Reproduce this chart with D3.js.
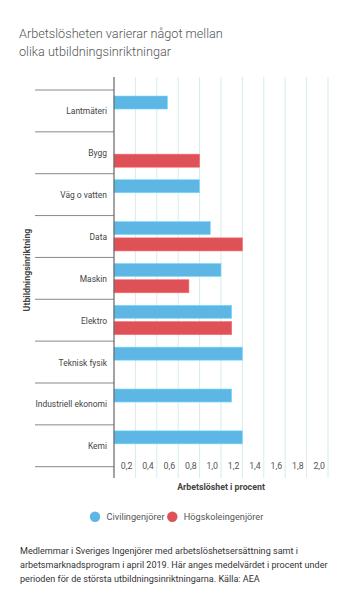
<!DOCTYPE html>
<html><head><meta charset="utf-8">
<script src="https://cdn.jsdelivr.net/npm/d3@7"></script>
<style>
body{margin:0;background:#fff;font-family:Roboto,"Noto Sans",sans-serif;}
</style></head>
<body>
<svg id="c" width="354" height="600"></svg>
<script>
const categories = ["Lantmäteri","Bygg","Väg o vatten","Data","Maskin","Elektro","Teknisk fysik","Industriell ekonomi","Kemi"];
const seriesNames = ["Civilingenjörer","Högskoleingenjörer"];
const civil = [0.5, null, 0.8, 0.9, 1.0, 1.1, 1.2, 1.1, 1.2];
const hogskola = [null, 0.8, null, 1.2, 0.7, 1.1, null, null, null];
const tickValues = [0.2,0.4,0.6,0.8,1.0,1.2,1.4,1.6,1.8,2.0];
const colors = ["#5db6e4","#de5257"];
const titleLines = ["Arbetslösheten varierar något mellan","olika utbildningsinriktningar"];
const noteLines = ["Medlemmar i Sveriges Ingenjörer med arbetslöshetsersättning samt i",
 "arbetsmarknadsprogram i april 2019. Här anges medelvärdet i procent under",
 "perioden för de största utbildningsinriktningarna. Källa: AEA"];

const svg = d3.select("#c");
// fit a text selection's font size so that a reference line hits a target width
function fitSize(sel, refNode, target){
  const w = refNode.getComputedTextLength();
  const fs = parseFloat(sel.attr("font-size"));
  sel.attr("font-size", fs*target/w);
}

const x = d3.scaleLinear().domain([0,2.0]).range([114,328]);
const y = d3.scaleBand().domain(categories).range([90,466.7]);
const sub = d3.scaleBand().domain(seriesNames).range([6, y.bandwidth()-6.5]).paddingInner(0.2);

// title
const tg = svg.append("g").attr("font-size",14).attr("fill","#555").attr("font-weight",300);
const tt = tg.selectAll("text").data(titleLines).join("text")
  .attr("x",19).attr("y",(d,i)=>38+i*17.5).text(d=>d);
fitSize(tg, tt.nodes()[0], 204);

// gridlines
svg.append("g").selectAll("line").data(tickValues).join("line")
  .attr("x1",d=>x(d)).attr("x2",d=>x(d)).attr("y1",77).attr("y2",478)
  .attr("stroke","#d9ebea").attr("stroke-width",1);

// separators
svg.append("g").selectAll("line").data(d3.range(categories.length+1)).join("line")
  .attr("x1",35).attr("x2",114)
  .attr("y1",i=> i<categories.length ? y(categories[i]) : y.range()[1])
  .attr("y2",i=> i<categories.length ? y(categories[i]) : y.range()[1])
  .attr("stroke","#888").attr("stroke-width",1);

// category labels
const cg = svg.append("g").attr("font-size",9.2).attr("fill","#444");
const ct = cg.selectAll("text").data(categories).join("text")
  .attr("x",107).attr("y",d=>y(d)+y.bandwidth()/2+3.5)
  .attr("text-anchor","end").text(d=>d);
fitSize(cg, ct.nodes()[7], 71.6);

// bars
const rows = [];
categories.forEach((c,i)=>{
  if(civil[i]!=null) rows.push({c, s:seriesNames[0], v:civil[i], col:colors[0]});
  if(hogskola[i]!=null) rows.push({c, s:seriesNames[1], v:hogskola[i], col:colors[1]});
});
svg.append("g").selectAll("rect").data(rows).join("rect")
  .attr("x",x(0)).attr("y",d=>y(d.c)+sub(d.s))
  .attr("width",d=>x(d.v)-x(0)).attr("height",sub.bandwidth())
  .attr("fill",d=>d.col).attr("stroke",d=>d3.color(d.col).brighter(0.6)).attr("stroke-width",0.6);

// y axis line
svg.append("line").attr("x1",114).attr("x2",114).attr("y1",77).attr("y2",478)
  .attr("stroke","#666").attr("stroke-width",1.2);

// tick labels
svg.append("g").selectAll("text").data(tickValues).join("text")
  .attr("x",d=>x(d)-3).attr("y",469)
  .attr("text-anchor","end").attr("font-size",8.8).attr("fill","#555")
  .text(d=>d3.format(".1f")(d).replace(".",","));

// axis titles
svg.append("text").attr("x",221).attr("y",490).attr("text-anchor","middle")
  .attr("font-size",8.8).attr("font-weight",700).attr("fill","#444")
  .text("Arbetslöshet i procent");
svg.append("text").attr("transform","translate(30,270) rotate(-90)").attr("text-anchor","middle")
  .attr("font-size",8.8).attr("font-weight",700).attr("fill","#444")
  .text("Utbildningsinriktning");

// legend
const lg = svg.append("g");
const legX = [95,172.3];
seriesNames.forEach((s,i)=>{
  lg.append("circle").attr("cx",legX[i]).attr("cy",516.7).attr("r",5.2).attr("fill",colors[i]);
  lg.append("text").attr("x",legX[i]+11.5).attr("y",520).attr("font-size",9.2).attr("fill","#555").text(s);
});

// note
const ng = svg.append("g").attr("font-size",10).attr("fill","#333");
const nt = ng.selectAll("text").data(noteLines).join("text")
  .attr("x",20).attr("y",(d,i)=>553.5+i*14.3).text(d=>d);
fitSize(ng, nt.nodes()[1], 308);
</script>
</body></html>
